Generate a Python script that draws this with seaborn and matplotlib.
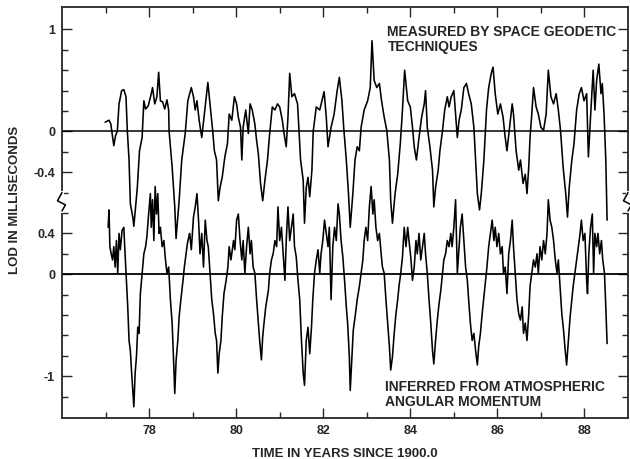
import numpy as np
import pandas as pd
import matplotlib
matplotlib.use("Agg")
import matplotlib.pyplot as plt
import matplotlib.transforms as mtransforms
import seaborn as sns

geod_year = [76.99, 77.08, 77.12, 77.15, 77.19, 77.23, 77.27, 77.31, 77.37, 77.42,
             77.47, 77.50, 77.54, 77.57, 77.63, 77.65, 77.73, 77.78, 77.84, 77.88,
             77.92, 77.98, 78.05, 78.08, 78.13, 78.18, 78.22, 78.26, 78.31, 78.36,
             78.41, 78.45, 78.46, 78.53, 78.59, 78.62, 78.69, 78.75, 78.83, 78.89,
             78.97, 79.02, 79.06, 79.10, 79.15, 79.21, 79.27, 79.35, 79.40, 79.46,
             79.50, 79.55, 79.59, 79.63, 79.68, 79.74, 79.80, 79.84, 79.90, 79.96,
             80.01, 80.05, 80.10, 80.13, 80.16, 80.22, 80.28, 80.32, 80.37, 80.43,
             80.47, 80.51, 80.56, 80.61, 80.66, 80.72, 80.77, 80.83, 80.89, 80.95,
             81.00, 81.06, 81.10, 81.15, 81.19, 81.23, 81.28, 81.34, 81.41, 81.44,
             81.48, 81.54, 81.57, 81.61, 81.65, 81.69, 81.74, 81.77, 81.84, 81.92,
             82.02, 82.07, 82.11, 82.18, 82.25, 82.32, 82.37, 82.43, 82.47, 82.53,
             82.58, 82.62, 82.68, 82.73, 82.78, 82.83, 82.87, 82.94, 83.02, 83.08,
             83.12, 83.17, 83.23, 83.29, 83.34, 83.40, 83.46, 83.52, 83.55, 83.59,
             83.65, 83.71, 83.77, 83.82, 83.87, 83.94, 84.00, 84.05, 84.09, 84.14,
             84.20, 84.26, 84.32, 84.35, 84.39, 84.45, 84.51, 84.54, 84.58, 84.64,
             84.68, 84.74, 84.79, 84.85, 84.89, 84.94, 85.00, 85.04, 85.08, 85.12,
             85.17, 85.23, 85.29, 85.34, 85.40, 85.46, 85.50, 85.54, 85.59, 85.63,
             85.69, 85.75, 85.80, 85.86, 85.90, 85.95, 86.01, 86.07, 86.13, 86.18,
             86.22, 86.28, 86.34, 86.37, 86.43, 86.49, 86.53, 86.59, 86.64, 86.68,
             86.72, 86.75, 86.79, 86.83, 86.89, 86.94, 87.00, 87.06, 87.12, 87.17,
             87.23, 87.29, 87.35, 87.40, 87.45, 87.51, 87.57, 87.61, 87.65, 87.71,
             87.76, 87.82, 87.88, 87.93, 87.99, 88.05, 88.09, 88.13, 88.16, 88.20,
             88.24, 88.28, 88.33, 88.38, 88.41, 88.45, 88.49, 88.52]
geod_lod = [0.09, 0.11, 0.075, -0.02, -0.14, -0.04, 0.00, 0.27, 0.40, 0.41,
            0.34, 0.01, -0.28, -0.71, -0.85, -0.93, -0.55, -0.19, -0.06, 0.30,
            0.22, 0.25, 0.37, 0.43, 0.27, 0.34, 0.58, 0.30, 0.29, 0.22,
            0.31, 0.21, 0.00, -0.35, -0.74, -1.05, -0.68, -0.28, -0.02, 0.30,
            0.43, 0.34, 0.21, 0.30, 0.11, -0.06, 0.17, 0.48, 0.27, 0.01,
            -0.19, -0.28, -0.68, -0.55, -0.45, -0.25, -0.12, 0.17, 0.11, 0.34,
            0.27, 0.14, 0.04, -0.28, 0.04, 0.21, -0.02, 0.27, 0.21, 0.07,
            -0.09, -0.22, -0.51, -0.68, -0.48, -0.28, -0.02, 0.24, 0.21, 0.27,
            0.24, 0.11, -0.02, -0.15, 0.14, 0.57, 0.34, 0.37, 0.27, 0.04,
            -0.28, -0.48, -0.90, -0.55, -0.45, -0.64, -0.38, 0.00, 0.24, 0.21,
            0.39, 0.14, -0.15, 0.04, 0.17, 0.40, 0.53, 0.30, 0.04, -0.28,
            -0.61, -0.94, -0.61, -0.28, -0.15, -0.19, 0.04, 0.21, 0.30, 0.43,
            0.89, 0.50, 0.43, 0.47, 0.30, 0.14, 0.01, -0.28, -0.68, -0.90,
            -0.61, -0.42, -0.12, 0.21, 0.60, 0.30, 0.24, 0.04, -0.15, -0.28,
            -0.06, 0.14, 0.27, 0.40, 0.04, -0.15, -0.38, -0.74, -0.55, -0.38,
            -0.19, 0.01, 0.21, 0.34, 0.24, 0.34, 0.40, 0.17, -0.06, 0.11,
            0.21, 0.43, 0.47, 0.37, 0.27, 0.04, -0.28, -0.61, -0.77, -0.61,
            -0.28, 0.21, 0.43, 0.57, 0.63, 0.37, 0.17, 0.27, 0.14, -0.06,
            -0.19, 0.04, 0.27, 0.17, -0.19, -0.38, -0.28, -0.51, -0.42, -0.61,
            -0.35, -0.06, 0.17, 0.43, 0.24, 0.17, 0.04, 0.01, 0.17, 0.60,
            0.34, 0.27, 0.37, 0.21, 0.01, -0.35, -0.61, -0.84, -0.55, -0.28,
            -0.12, 0.21, 0.37, 0.43, 0.30, 0.37, -0.25, 0.07, 0.30, 0.60,
            0.21, 0.50, 0.66, 0.37, 0.47, 0.17, -0.28, -0.87]

# LOD inferred from atmospheric angular momentum (ms)
aam_year = [77.06, 77.08, 77.10, 77.13, 77.16, 77.19, 77.22, 77.25, 77.28, 77.31,
            77.34, 77.38, 77.42, 77.44, 77.47, 77.51, 77.54, 77.57, 77.60, 77.63,
            77.65, 77.68, 77.71, 77.74, 77.77, 77.80, 77.84, 77.88, 77.92, 77.95,
            77.99, 78.03, 78.05, 78.08, 78.11, 78.14, 78.17, 78.20, 78.23, 78.26,
            78.30, 78.34, 78.37, 78.41, 78.45, 78.49, 78.53, 78.56, 78.59, 78.62,
            78.66, 78.69, 78.73, 78.78, 78.81, 78.85, 78.88, 78.93, 78.94, 78.97,
            79.02, 79.06, 79.10, 79.14, 79.17, 79.21, 79.25, 79.29, 79.33, 79.36,
            79.40, 79.44, 79.48, 79.52, 79.55, 79.58, 79.61, 79.65, 79.68, 79.72,
            79.77, 79.81, 79.84, 79.88, 79.94, 79.97, 80.01, 80.05, 80.09, 80.13,
            80.16, 80.20, 80.24, 80.28, 80.32, 80.35, 80.39, 80.43, 80.47, 80.51,
            80.54, 80.58, 80.61, 80.64, 80.68, 80.74, 80.77, 80.81, 80.85, 80.89,
            80.93, 80.96, 81.00, 81.04, 81.08, 81.12, 81.15, 81.19, 81.23, 81.27,
            81.31, 81.34, 81.38, 81.42, 81.46, 81.50, 81.54, 81.57, 81.61, 81.65,
            81.69, 81.73, 81.76, 81.80, 81.84, 81.88, 81.92, 81.95, 81.99, 82.03,
            82.07, 82.11, 82.14, 82.18, 82.22, 82.26, 82.30, 82.34, 82.37, 82.41,
            82.45, 82.49, 82.53, 82.56, 82.60, 82.62, 82.66, 82.69, 82.74, 82.78,
            82.83, 82.87, 82.91, 82.94, 82.98, 83.02, 83.06, 83.10, 83.14, 83.17,
            83.21, 83.25, 83.29, 83.33, 83.36, 83.40, 83.44, 83.48, 83.52, 83.55,
            83.59, 83.63, 83.67, 83.71, 83.74, 83.78, 83.82, 83.86, 83.90, 83.94,
            83.97, 84.01, 84.05, 84.09, 84.13, 84.16, 84.20, 84.24, 84.28, 84.32,
            84.35, 84.39, 84.43, 84.47, 84.51, 84.54, 84.58, 84.62, 84.66, 84.70,
            84.74, 84.77, 84.81, 84.85, 84.89, 84.93, 84.96, 85.00, 85.04, 85.08,
            85.12, 85.15, 85.19, 85.23, 85.27, 85.31, 85.34, 85.38, 85.42, 85.46,
            85.50, 85.54, 85.57, 85.61, 85.65, 85.69, 85.73, 85.76, 85.80, 85.84,
            85.88, 85.92, 85.95, 85.99, 86.03, 86.07, 86.11, 86.14, 86.18, 86.22,
            86.26, 86.30, 86.34, 86.37, 86.41, 86.45, 86.49, 86.53, 86.57, 86.60,
            86.64, 86.68, 86.72, 86.75, 86.79, 86.83, 86.87, 86.91, 86.94, 86.98,
            87.02, 87.06, 87.10, 87.14, 87.17, 87.21, 87.25, 87.29, 87.33, 87.37,
            87.40, 87.44, 87.48, 87.52, 87.55, 87.59, 87.63, 87.67, 87.71, 87.74,
            87.78, 87.82, 87.86, 87.90, 87.93, 87.97, 88.01, 88.05, 88.07, 88.10,
            88.14, 88.18, 88.21, 88.24, 88.28, 88.31, 88.35, 88.39, 88.42, 88.46,
            88.49, 88.52]
aam_lod = [0.46, 0.63, 0.27, 0.20, 0.14, 0.27, 0.07, 0.33, 0.01, 0.40,
           0.24, 0.43, 0.46, 0.27, 0.01, -0.32, -0.65, -0.75, -0.97, -1.17,
           -1.30, -0.97, -0.81, -0.52, -0.58, -0.19, 0.01, 0.20, 0.27, 0.37,
           0.59, 0.79, 0.46, 0.73, 0.33, 0.86, 0.59, 0.79, 0.40, 0.46,
           0.27, 0.33, 0.17, 0.01, 0.07, -0.25, -0.48, -0.81, -1.17, -0.85,
           -0.65, -0.42, -0.25, -0.06, 0.07, 0.20, 0.30, 0.40, 0.37, 0.24,
           0.56, 0.66, 0.79, 0.50, 0.20, 0.40, 0.07, 0.53, 0.33, 0.27,
           0.01, -0.25, -0.39, -0.58, -0.65, -0.97, -0.78, -0.65, -0.42, -0.19,
           -0.06, 0.07, 0.27, 0.14, 0.33, 0.24, 0.53, 0.59, 0.33, 0.14,
           0.33, 0.01, 0.27, 0.46, 0.20, 0.33, 0.07, 0.01, -0.25, -0.48,
           -0.65, -0.84, -0.61, -0.48, -0.32, -0.16, 0.01, 0.14, 0.20, 0.33,
           0.27, 0.66, 0.33, 0.46, 0.20, -0.06, 0.33, 0.66, 0.33, 0.46,
           0.59, 0.27, 0.17, -0.06, -0.25, -0.65, -0.97, -1.09, -0.65, -0.52,
           -0.78, -0.52, -0.25, 0.01, 0.14, 0.24, 0.01, 0.20, 0.33, 0.53,
           0.40, 0.27, 0.46, -0.25, 0.27, 0.46, 0.33, 0.69, 0.59, 0.33,
           0.17, -0.06, -0.32, -0.48, -0.81, -1.14, -0.81, -0.55, -0.39, -0.25,
           -0.12, 0.01, 0.14, 0.33, 0.46, 0.33, 0.66, 0.86, 0.59, 0.73,
           0.46, 0.33, 0.40, 0.20, 0.07, 0.01, -0.25, -0.48, -0.71, -0.94,
           -0.81, -0.58, -0.39, -0.25, -0.12, 0.01, 0.17, 0.46, 0.27, 0.46,
           0.33, 0.17, -0.06, 0.07, 0.33, 0.20, 0.40, 0.14, 0.27, 0.40,
           0.20, 0.01, -0.25, -0.48, -0.75, -0.88, -0.65, -0.45, -0.29, -0.16,
           0.01, 0.14, 0.20, 0.33, 0.27, 0.40, 0.27, 0.46, 0.73, 0.01,
           0.27, 0.46, 0.59, 0.33, 0.07, -0.06, -0.25, -0.48, -0.65, -0.58,
           -0.75, -0.89, -0.71, -0.58, -0.39, -0.22, -0.06, 0.07, 0.27, 0.40,
           0.53, 0.33, 0.46, 0.27, 0.40, 0.20, 0.27, 0.01, 0.07, -0.19,
           0.20, 0.33, 0.53, 0.27, 0.01, -0.25, -0.39, -0.45, -0.32, -0.58,
           -0.48, -0.65, -0.39, -0.12, 0.01, 0.14, 0.07, 0.20, 0.01, 0.27,
           0.14, 0.33, 0.20, 0.40, 0.73, 0.53, 0.46, 0.33, 0.14, 0.01,
           0.14, -0.12, -0.39, -0.55, -0.71, -0.89, -0.65, -0.42, -0.25, -0.12,
           0.01, 0.14, 0.27, 0.40, 0.53, 0.33, 0.40, -0.06, -0.19, 0.20,
           0.46, 0.59, 0.01, 0.40, 0.27, 0.40, 0.20, 0.33, 0.14, 0.01,
           -0.32, -0.68]

# upper panel is drawn on the same axis, shifted up
upper_offset = 1.4
ytick_pos = [2.4, 1.4, 1.0, 0.4, 0.0, -1.0]
ytick_labels = ["1", "0", "-0.4", "0.4", "0", "-1"]
xtick_years = [78, 80, 82, 84, 86, 88]

sns.set_style("ticks")
plt.rcParams["font.family"] = ["Liberation Sans", "DejaVu Sans"]

geod = pd.DataFrame({"year": geod_year, "lod": np.array(geod_lod) + upper_offset})
aam = pd.DataFrame({"year": aam_year, "lod": aam_lod})

fig = plt.figure(figsize=(6.3, 4.59), dpi=100)
ax = fig.add_axes([62 / 630, 41 / 459, 566 / 630, 411 / 459])

sns.lineplot(data=geod, x="year", y="lod", ax=ax, color="black", lw=1.15,
             estimator=None, sort=False)
sns.lineplot(data=aam, x="year", y="lod", ax=ax, color="black", lw=1.15,
             estimator=None, sort=False)

# zero lines of both panels
ax.axhline(upper_offset, color="black", lw=1.1)
ax.axhline(0, color="black", lw=1.3)

ax.set_xlim(76.0, 89.0)
ax.set_ylim(-1.41, 2.62)

ax.set_xticks(xtick_years)
ax.set_xticklabels([str(y) for y in xtick_years], fontsize=9, fontweight="bold")
ax.set_xticks(np.arange(77, 89, 2), minor=True)
ax.set_yticks(ytick_pos)
ax.set_yticklabels(ytick_labels, fontsize=9, fontweight="bold")
ax.set_yticks(list(np.arange(0.8, 2.5, 0.2)) + list(np.arange(-1.2, 0.7, 0.2)), minor=True)

ax.tick_params(which="both", direction="in", top=True, right=True, width=1.0)
ax.tick_params(which="major", length=7, pad=5)
ax.tick_params(which="minor", length=4)
for s in ax.spines.values():
    s.set_linewidth(1.3)

ax.set_xlabel("TIME IN YEARS SINCE 1900.0", fontsize=9.5, fontweight="bold", labelpad=8)
ax.set_ylabel("LOD IN MILLISECONDS", fontsize=9.5, fontweight="bold")
ax.yaxis.set_label_coords(-0.073, 0.53)

# axis break marks
tr = mtransforms.blended_transform_factory(ax.transAxes, ax.transData)
for xs in (0.0, 1.0):
    ax.plot([xs, xs], [0.62, 0.80], color="white", lw=3, transform=tr, clip_on=False, zorder=5)
    ax.plot([xs, xs - 0.008, xs + 0.006, xs], [0.80, 0.72, 0.68, 0.62], color="black",
            lw=1.1, transform=tr, clip_on=False, zorder=6)

ax.text(0.575, 0.955, "MEASURED BY SPACE GEODETIC\nTECHNIQUES", transform=ax.transAxes,
        fontsize=10, fontweight="bold", va="top", ha="left", linespacing=1.05)
ax.text(0.57, 0.092, "INFERRED FROM ATMOSPHERIC\nANGULAR MOMENTUM", transform=ax.transAxes,
        fontsize=10, fontweight="bold", va="top", ha="left", linespacing=1.05)

fig.savefig("out.png", dpi=100)
